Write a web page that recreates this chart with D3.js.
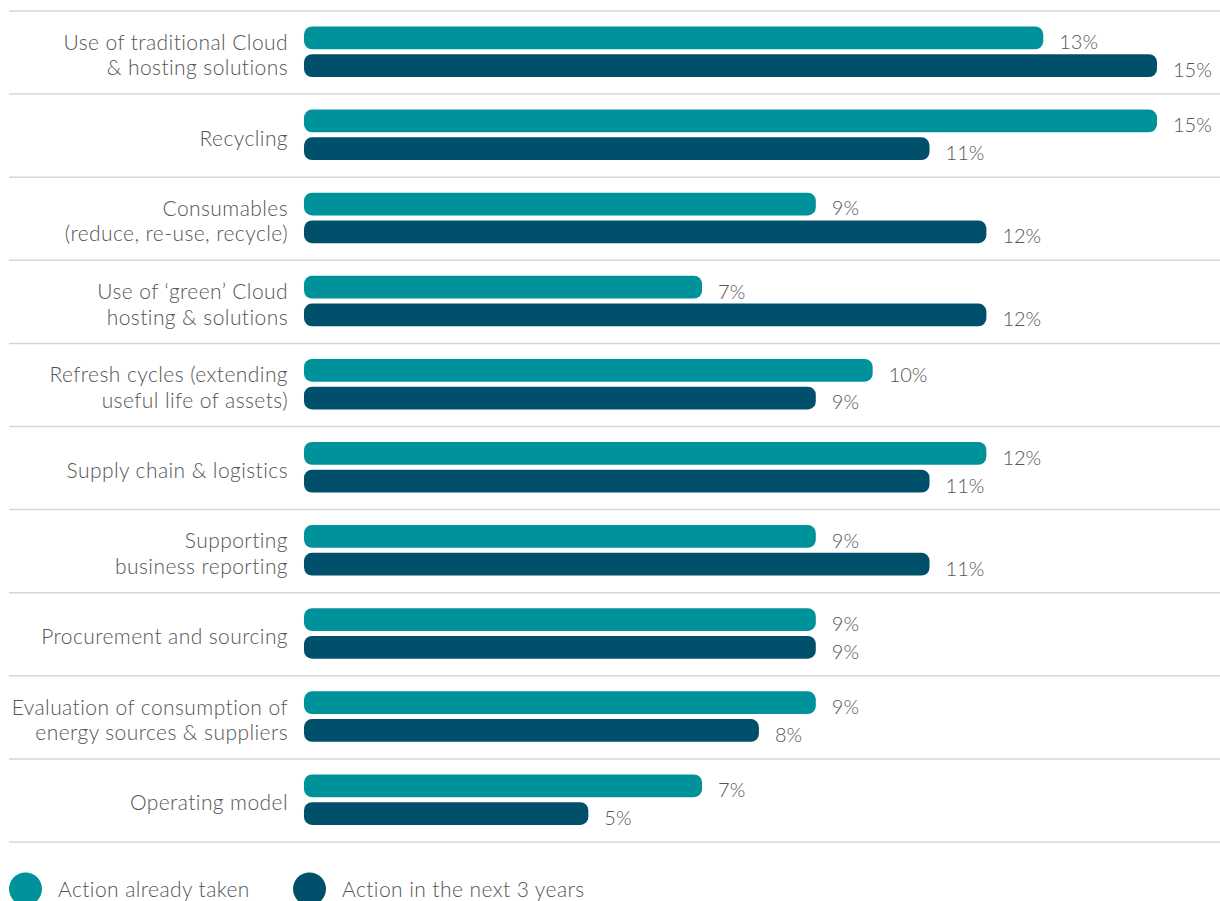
<!DOCTYPE html>
<html>
<head>
<meta charset="utf-8">
<script src="https://cdn.jsdelivr.net/npm/d3@7"></script>
<style>
  html, body { margin: 0; padding: 0; background: #fff; }
  svg { display: block; }
  text { font-family: Lato, "Noto Sans", sans-serif; font-weight: 300; fill: #555; }
  .lbl { letter-spacing: 0.42px; }
</style>
</head>
<body>
<svg id="chart" width="1220" height="901"></svg>
<script>
// Sustainability action areas (line breaks mark label wrapping)
const categories = [
  "Use of traditional Cloud\n& hosting solutions",
  "Recycling",
  "Consumables\n(reduce, re-use, recycle)",
  "Use of \u2018green\u2019 Cloud\nhosting & solutions",
  "Refresh cycles (extending\nuseful life of assets)",
  "Supply chain & logistics",
  "Supporting\nbusiness reporting",
  "Procurement and sourcing",
  "Evaluation of consumption of\nenergy sources & suppliers",
  "Operating model"
];
const seriesNames = ["Action already taken", "Action in the next 3 years"];
const alreadyTaken = [13, 15, 9, 7, 10, 12, 9, 9, 9, 7];
const nextThreeYears = [15, 11, 12, 12, 9, 11, 11, 9, 8, 5];
const colors = ["#00929a", "#00506b"];

const seriesValues = [alreadyTaken, nextThreeYears];
const rows = categories.map((c, i) => ({
  category: c,
  values: seriesNames.map((s, k) => ({ series: s, k, value: seriesValues[k][i] }))
}));

const svg = d3.select("#chart");

const x = d3.scaleLinear().domain([0, 15]).range([304, 1157]);
const y = d3.scaleBand().domain(categories).range([11, 842]).paddingInner(0);
const yInner = d3.scaleBand().domain(seriesNames).range([15.5, 66]).paddingInner(0.18);

// Row separators
const seps = d3.range(categories.length + 1).map(i => 11 + i * y.step());
svg.append("g").selectAll("line").data(seps).join("line")
  .attr("x1", 9).attr("x2", 1220)
  .attr("y1", d => d).attr("y2", d => d)
  .attr("stroke", "#d6d6d6").attr("stroke-width", 1.5);

const rowG = svg.append("g").selectAll("g").data(rows).join("g")
  .attr("transform", d => `translate(0,${y(d.category)})`);

// Category labels, right aligned next to the bars
rowG.append("text")
  .attr("class", "lbl")
  .attr("text-anchor", "end")
  .attr("font-size", 21)
  .each(function(d) {
    const lines = d.category.split("\n");
    const t = d3.select(this);
    lines.forEach((ln, i) => {
      t.append("tspan")
        .attr("x", 288)
        .attr("y", 51.5 + (i - (lines.length - 1) / 2) * 25.5)
        .text(ln);
    });
  });

// Bars
rowG.selectAll("rect").data(d => d.values).join("rect")
  .attr("x", x(0))
  .attr("y", d => yInner(d.series))
  .attr("width", d => x(d.value) - x(0))
  .attr("height", yInner.bandwidth())
  .attr("rx", 8).attr("ry", 8)
  .attr("fill", d => colors[d.k]);

// Value labels
rowG.selectAll("text.val").data(d => d.values).join("text")
  .attr("class", "val")
  .attr("x", d => x(d.value) + 16)
  .attr("y", d => yInner(d.series) + yInner.bandwidth())
  .attr("font-size", 20)
  .text(d => d.value + "%");

// Legend
const legendX = [25.5, 309.5];
const legend = svg.append("g").selectAll("g").data(seriesNames).join("g")
  .attr("transform", (d, i) => `translate(${legendX[i]},889)`);
legend.append("circle").attr("r", 16.5).attr("fill", (d, i) => colors[i]);
legend.append("text").attr("class", "lbl").attr("x", 32.5).attr("y", 7.5)
  .attr("font-size", 21).text(d => d);
</script>
</body>
</html>
